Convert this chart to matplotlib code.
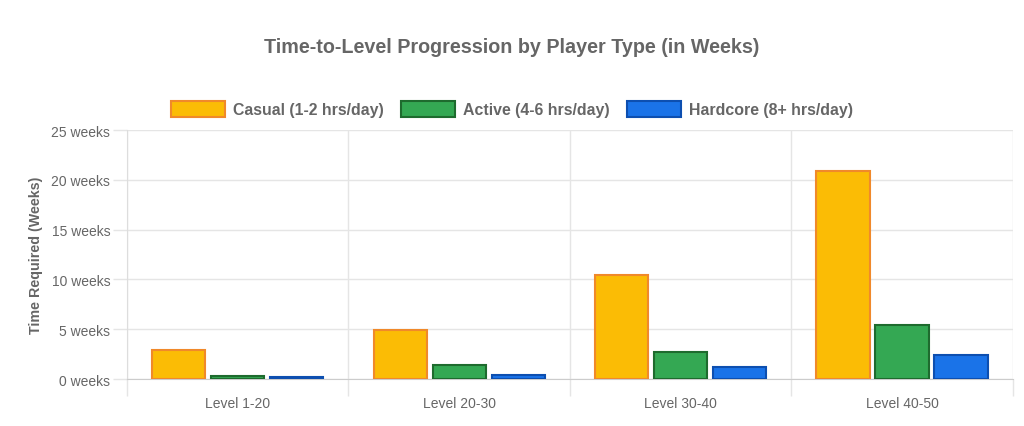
import matplotlib
matplotlib.use('Agg')
import matplotlib.pyplot as plt
import numpy as np

levels = ['Level 1-20', 'Level 20-30', 'Level 30-40', 'Level 40-50']
casual = [2.9, 4.9, 10.4, 20.9]
active = [0.3, 1.4, 2.7, 5.4]
hardcore = [0.2, 0.4, 1.2, 2.4]
series_names = ['Casual (1-2 hrs/day)', 'Active (4-6 hrs/day)', 'Hardcore (8+ hrs/day)']
fills = ['#FBBC05', '#34A853', '#1A73E8']
edges = ['#F0892A', '#1E6B2E', '#0D4FB0']
yticks = [0, 5, 10, 15, 20, 25]

plt.rcParams['font.family'] = ['Liberation Sans', 'DejaVu Sans']
txt = '#666666'
grid = '#e5e5e5'

fig = plt.figure(figsize=(10.24, 4.27), dpi=100)
ax = fig.add_axes([0.124, 0.110, 0.865, 0.583])

x = np.arange(len(levels))
slot = 0.8 / 3
barw = slot * 0.9
for i, vals in enumerate([casual, active, hardcore]):
	offs = x - 0.4 + slot * (i + 0.5)
	ax.bar(offs, vals, width=barw, color=fills[i], edgecolor=edges[i],
		linewidth=1.5, label=series_names[i], zorder=3)

ax.set_xlim(-0.5, len(levels) - 0.5)
ax.set_ylim(0, 25)
ax.set_yticks(yticks)
ax.set_yticklabels([f'{v} weeks' for v in yticks])
ax.set_xticks(x)
ax.set_xticklabels(levels)
ax.set_xticks(np.arange(len(levels) + 1) - 0.5, minor=True)

ax.grid(axis='y', color=grid, linewidth=1, zorder=0)
ax.grid(axis='x', which='minor', color=grid, linewidth=1, zorder=0)
ax.tick_params(axis='y', colors=grid, labelcolor=txt, labelsize=10, length=10, width=1, pad=2)
ax.tick_params(axis='x', which='major', length=0, labelcolor=txt, labelsize=10, pad=12)
ax.tick_params(axis='x', which='minor', length=12, color=grid, width=1)
for s in ['top', 'right']:
	ax.spines[s].set_visible(False)
ax.spines['left'].set_color('#dddddd')
ax.spines['bottom'].set_color('#cccccc')

ax.set_ylabel('Time Required (Weeks)', color=txt, fontsize=10.3, fontweight='bold', labelpad=6)

fig.text(0.5, 0.888, 'Time-to-Level Progression by Player Type (in Weeks)', ha='center',
	va='center', fontsize=14.2, fontweight='bold', color=txt)

fig.legend(loc='center', bbox_to_anchor=(0.5, 0.742), ncol=3, frameon=False,
	handlelength=3.4, handleheight=1.15, columnspacing=1.1,
	handletextpad=0.5, labelcolor=txt, prop={'weight': 'bold', 'size': 11.4})

fig.savefig('out.png', dpi=100, facecolor='white')
